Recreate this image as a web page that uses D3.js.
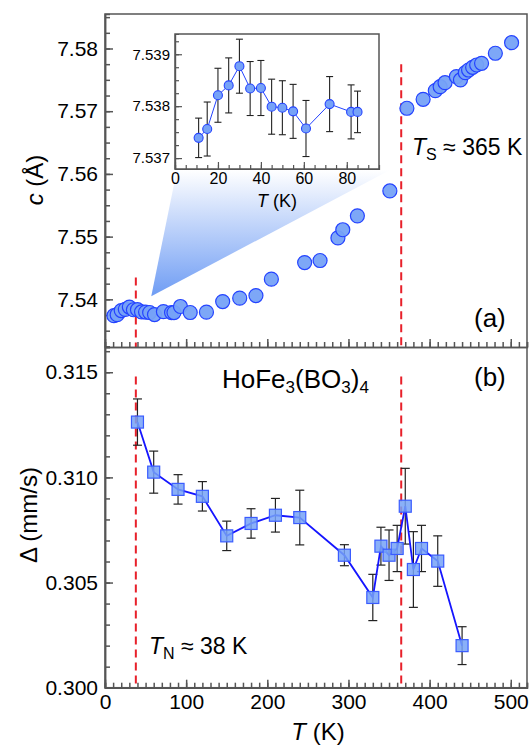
<!DOCTYPE html>
<html>
<head>
<meta charset="utf-8">
<script src="https://cdnjs.cloudflare.com/ajax/libs/d3/7.8.5/d3.min.js"></script>
<style>
  body { margin: 0; background: #fff; }
  svg { display: block; font-family: "Liberation Sans", Arial, sans-serif; }
  .axis path, .axis line { stroke: #555; stroke-width: 1.5; }
  .axis text { fill: #000; }
</style>
</head>
<body>
<div class="chart"></div>
<script>
'use strict';
// c-axis data, low temperature part (also shown in the inset)
var insetT = [11, 15, 20, 25, 30, 35, 40, 45, 50, 55, 61, 72, 82, 85];
var insetC = [7.53739, 7.53756, 7.53821, 7.53840, 7.53877, 7.53834, 7.53835, 7.53799, 7.53797, 7.53790, 7.53757, 7.53804, 7.53789, 7.53789];
var insetErr = [0.00038, 0.00052, 0.00052, 0.00053, 0.00052, 0.00052, 0.00053, 0.00053, 0.00052, 0.00052, 0.00054, 0.00053, 0.00052, 0.00040];

// c-axis data above 90 K
var highT = [93, 105, 125, 145, 166, 186, 205, 246, 265, 287, 293, 311, 351, 372, 392, 407, 413, 419, 433, 438, 444, 448, 453, 458, 464, 481, 501];
var highC = [7.53886, 7.53790, 7.53796, 7.53965, 7.54019, 7.54060, 7.54322, 7.54587, 7.54619, 7.5498, 7.5511, 7.55331, 7.55729, 7.57047, 7.57190, 7.57328, 7.57391, 7.57455, 7.57551, 7.57498, 7.57615, 7.57657, 7.57700, 7.57737, 7.57764, 7.57924, 7.58093];

// quadrupole splitting
var bottomT = [40, 60, 90, 120, 150, 180, 210, 240, 295, 330, 340, 350, 360, 370, 380, 390, 410, 440];
var bottomD = [0.31263, 0.31025, 0.30943, 0.30910, 0.30722, 0.30781, 0.30820, 0.30809, 0.30630, 0.30429, 0.30673, 0.30630, 0.30662, 0.30863, 0.30562, 0.30662, 0.30602, 0.30200];
var bottomErr = [0.0011, 0.0010, 0.0007, 0.0007, 0.0007, 0.0007, 0.0008, 0.0013, 0.0005, 0.0011, 0.0009, 0.0012, 0.0011, 0.0018, 0.0018, 0.0011, 0.0012, 0.0009];

var TN = 38;
var TS = 365;

// tick labels
var xTicks = [0, 100, 200, 300, 400, 500];
var topTicks = [7.54, 7.55, 7.56, 7.57, 7.58];
var bottomTicks = [0.300, 0.305, 0.310, 0.315];
var insetXTicks = [0, 20, 40, 60, 80];
var insetYTicks = [7.537, 7.538, 7.539];

(function() {
  var w = 532;
  var h = 751;
  var left = 105, right = 527;
  var top = 14, mid = 347, bottom = 687.7;
  var axisColor = '#555';
  var red = '#e8202a';
  var fillBlue = '#76a2f7';
  var strokeBlue = '#2443ff';

  var x = d3.scaleLinear().domain([0, 520]).range([left, right]);
  var yTop = d3.scaleLinear().domain([7.5324, 7.5855]).range([mid, top]);
  var yBot = d3.scaleLinear().domain([0.300, 0.3162]).range([bottom, mid]);

  var svg = d3.select('.chart')
    .append('svg')
    .attr('width', w)
    .attr('height', h);

  var defs = svg.append('defs');
  var grad = defs.append('linearGradient')
    .attr('id', 'zoomGrad')
    .attr('gradientUnits', 'userSpaceOnUse')
    .attr('x1', 0).attr('y1', 170)
    .attr('x2', 0).attr('y2', 297);
  grad.append('stop').attr('offset', 0).attr('stop-color', '#ffffff');
  grad.append('stop').attr('offset', 1).attr('stop-color', '#6e9cf4');

  // inset geometry
  var ix = d3.scaleLinear().domain([0, 95]).range([175, 379]);
  var iy = d3.scaleLinear().domain([7.53679, 7.53939]).range([169, 34]);

  // zoom triangle from data region to inset
  var apex = [x(57), yTop(7.5405)];
  svg.append('path')
    .attr('d', 'M' + apex[0] + ',' + apex[1] + 'L' + ix(1) + ',169L' + ix(101) + ',169Z')
    .attr('fill', 'url(#zoomGrad)');

  function dashed(xv, y1, y2) {
    svg.append('line')
      .attr('x1', x(xv)).attr('x2', x(xv))
      .attr('y1', y1).attr('y2', y2)
      .attr('stroke', red)
      .attr('stroke-width', 2)
      .attr('stroke-dasharray', '8,5');
  }
  dashed(TN, yTop(7.5435), mid);
  dashed(TS, yTop(7.5775), mid);
  dashed(TN, yBot(0.3148), bottom);
  dashed(TS, yBot(0.3148), bottom);

  // axes helper: minor + major ticks pointing inward
  function yAxis(scale, majors, minorStep, fmt, size) {
    var d = scale.domain();
    var minors = d3.range(Math.ceil(d[0] / minorStep), Math.floor(d[1] / minorStep) + 1)
      .map(function(k) { return k * minorStep; });
    var g = svg.append('g').attr('class', 'axis').attr('transform', 'translate(' + left + ',0)');
    g.call(d3.axisLeft(scale).tickValues(minors).tickSize(-5).tickFormat(''));
    g.append('g').call(d3.axisLeft(scale).tickValues(majors).tickSizeInner(-8).tickSizeOuter(0)
      .tickPadding(7).tickFormat(d3.format(fmt)))
      .selectAll('text').style('font-size', size + 'px');
    g.selectAll('.domain').attr('stroke', axisColor);
  }
  function xAxis(yPos, labels) {
    var g = svg.append('g').attr('class', 'axis').attr('transform', 'translate(0,' + yPos + ')');
    g.call(d3.axisBottom(x).tickValues(d3.range(0, 521, 10)).tickSize(-5).tickFormat(''));
    var maj = g.append('g').call(d3.axisBottom(x).tickValues(xTicks).tickSizeInner(-8).tickSizeOuter(0)
      .tickPadding(6).tickFormat(labels ? d3.format('d') : ''));
    maj.selectAll('text').style('font-size', '21px');
  }

  yAxis(yTop, topTicks, 0.0025, '.2f', 21);
  yAxis(yBot, bottomTicks, 0.001, '.3f', 21);
  xAxis(mid, false);
  xAxis(bottom, true);

  // frame
  svg.append('rect')
    .attr('x', left).attr('y', top)
    .attr('width', right - left).attr('height', bottom - top)
    .attr('fill', 'none').attr('stroke', axisColor).attr('stroke-width', 1.5);

  // top panel circles
  var topData = insetT.map(function(t, i) { return { t: t, c: insetC[i] }; })
    .concat(highT.map(function(t, i) { return { t: t, c: highC[i] }; }));
  svg.append('g')
    .selectAll('circle')
    .data(topData)
    .enter()
    .append('circle')
    .attr('cx', function(d) { return x(d.t); })
    .attr('cy', function(d) { return yTop(d.c); })
    .attr('r', 7)
    .attr('fill', fillBlue)
    .attr('fill-opacity', 0.95)
    .attr('stroke', strokeBlue)
    .attr('stroke-width', 1.2);

  // bottom panel
  var botData = bottomT.map(function(t, i) { return { t: t, v: bottomD[i], e: bottomErr[i] }; });
  var eb = svg.append('g').attr('stroke', '#222').attr('stroke-width', 1.2);
  botData.forEach(function(d) {
    var y1 = yBot(d.v - d.e), y2 = yBot(d.v + d.e), cx = x(d.t);
    eb.append('line').attr('x1', cx).attr('x2', cx).attr('y1', y1).attr('y2', y2);
    eb.append('line').attr('x1', cx - 4.5).attr('x2', cx + 4.5).attr('y1', y1).attr('y2', y1);
    eb.append('line').attr('x1', cx - 4.5).attr('x2', cx + 4.5).attr('y1', y2).attr('y2', y2);
  });
  svg.append('path')
    .datum(botData)
    .attr('fill', 'none')
    .attr('stroke', '#1515ff')
    .attr('stroke-width', 1.8)
    .attr('d', d3.line().x(function(d) { return x(d.t); }).y(function(d) { return yBot(d.v); }));
  svg.append('g')
    .selectAll('rect')
    .data(botData)
    .enter()
    .append('rect')
    .attr('x', function(d) { return x(d.t) - 6; })
    .attr('y', function(d) { return yBot(d.v) - 6; })
    .attr('width', 12)
    .attr('height', 12)
    .attr('fill', fillBlue)
    .attr('fill-opacity', 0.85)
    .attr('stroke', '#3a5cff')
    .attr('stroke-width', 1.2);

  // inset
  var ins = svg.append('g');
  ins.append('rect')
    .attr('x', 175).attr('y', 34).attr('width', 204).attr('height', 135)
    .attr('fill', '#fff');
  var gx = ins.append('g').attr('class', 'axis').attr('transform', 'translate(0,169)');
  gx.call(d3.axisBottom(ix).tickValues(d3.range(0, 95, 5)).tickSize(-4).tickFormat(''));
  gx.append('g').call(d3.axisBottom(ix).tickValues(insetXTicks).tickSizeInner(-7).tickSizeOuter(0).tickPadding(4))
    .selectAll('text').style('font-size', '16px');
  var gy = ins.append('g').attr('class', 'axis').attr('transform', 'translate(175,0)');
  gy.call(d3.axisLeft(iy).tickValues(d3.range(7.537, 7.53939, 0.00025)).tickSize(-4).tickFormat(''));
  gy.append('g').call(d3.axisLeft(iy).tickValues(insetYTicks).tickSizeInner(-7).tickSizeOuter(0).tickPadding(5)
    .tickFormat(d3.format('.3f')))
    .selectAll('text').style('font-size', '15px');
  ins.selectAll('.axis line, .axis path').style('stroke-width', 1.2);
  ins.append('rect')
    .attr('x', 175).attr('y', 34).attr('width', 204).attr('height', 135)
    .attr('fill', 'none').attr('stroke', axisColor).attr('stroke-width', 1.5);

  var insData = insetT.map(function(t, i) { return { t: t, c: insetC[i], e: insetErr[i] }; });
  var ieb = ins.append('g').attr('stroke', '#222').attr('stroke-width', 1.1);
  insData.forEach(function(d) {
    var y1 = iy(d.c - d.e), y2 = iy(d.c + d.e), cx = ix(d.t);
    ieb.append('line').attr('x1', cx).attr('x2', cx).attr('y1', y1).attr('y2', y2);
    ieb.append('line').attr('x1', cx - 3.5).attr('x2', cx + 3.5).attr('y1', y1).attr('y2', y1);
    ieb.append('line').attr('x1', cx - 3.5).attr('x2', cx + 3.5).attr('y1', y2).attr('y2', y2);
  });
  ins.append('path')
    .datum(insData)
    .attr('fill', 'none')
    .attr('stroke', '#2443ff')
    .attr('stroke-width', 1)
    .attr('d', d3.line().x(function(d) { return ix(d.t); }).y(function(d) { return iy(d.c); }));
  ins.append('g')
    .selectAll('circle')
    .data(insData)
    .enter()
    .append('circle')
    .attr('cx', function(d) { return ix(d.t); })
    .attr('cy', function(d) { return iy(d.c); })
    .attr('r', 4.5)
    .attr('fill', fillBlue)
    .attr('stroke', strokeBlue)
    .attr('stroke-width', 1.1);

  var it = ins.append('text')
    .attr('x', 277).attr('y', 207)
    .attr('text-anchor', 'middle')
    .style('font-size', '18px');
  it.append('tspan').style('font-style', 'italic').text('T');
  it.append('tspan').text(' (K)');

  // labels
  function label(xp, yp, size) {
    return svg.append('text').attr('x', xp).attr('y', yp).style('font-size', size + 'px');
  }
  var cl = svg.append('text')
    .attr('transform', 'translate(43,180) rotate(-90)')
    .attr('text-anchor', 'middle')
    .style('font-size', '24px');
  cl.append('tspan').style('font-style', 'italic').text('c');
  cl.append('tspan').text(' (Å)');

  svg.append('text')
    .attr('transform', 'translate(37,515) rotate(-90)')
    .attr('text-anchor', 'middle')
    .style('font-size', '24px')
    .text('Δ (mm/s)');

  var tl = svg.append('text')
    .attr('x', 318).attr('y', 740)
    .attr('text-anchor', 'middle')
    .style('font-size', '24px');
  tl.append('tspan').style('font-style', 'italic').text('T');
  tl.append('tspan').text(' (K)');

  label(474, 327, 26).text('(a)');
  label(474, 386, 26).text('(b)');

  var hf = label(222, 388, 26);
  hf.append('tspan').text('HoFe');
  hf.append('tspan').attr('dy', 5).style('font-size', '17px').text('3');
  hf.append('tspan').attr('dy', -5).text('(BO');
  hf.append('tspan').attr('dy', 5).style('font-size', '17px').text('3');
  hf.append('tspan').attr('dy', -5).text(')');
  hf.append('tspan').attr('dy', 5).style('font-size', '17px').text('4');

  var ts = label(412, 155, 23);
  ts.append('tspan').style('font-style', 'italic').text('T');
  ts.append('tspan').attr('dy', 5).style('font-size', '16px').text('S');
  ts.append('tspan').attr('dy', -5).text(' ≈ 365 K');

  var tn = label(149, 654, 23);
  tn.append('tspan').style('font-style', 'italic').text('T');
  tn.append('tspan').attr('dy', 5).style('font-size', '16px').text('N');
  tn.append('tspan').attr('dy', -5).text(' ≈ 38 K');
})();
</script>
</body>
</html>
